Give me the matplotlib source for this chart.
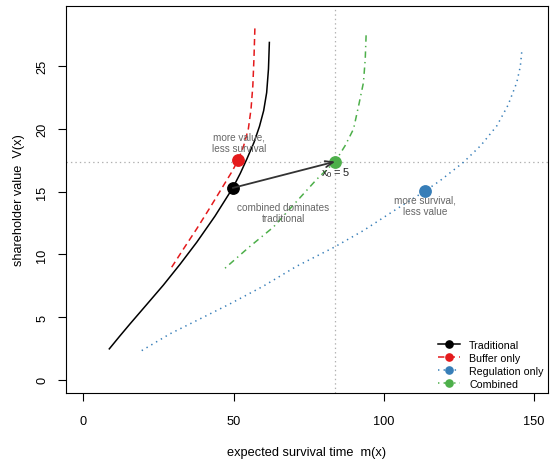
import matplotlib
matplotlib.use("Agg")
import matplotlib.pyplot as plt

plt.rcParams['font.family'] = ['Liberation Sans', 'DejaVu Sans']
plt.rcParams['lines.scale_dashes'] = False

# Curves: expected survival time m(x) vs shareholder value V(x)
trad_m = [8.65, 12.0, 15.54, 21.0, 26.62, 32.2, 37.74, 43.8, 49.72, 52.2, 54.4, 56.8, 58.6, 60.0, 61.0, 61.6, 61.9]
trad_v = [2.47, 3.45, 4.46, 5.98, 7.55, 9.22, 10.97, 13.05, 15.3, 16.45, 17.6, 18.94, 20.2, 21.46, 22.9, 24.78, 26.9]

buf_m = [29.4, 33.5, 37.7, 42.2, 46.6, 49.2, 51.6, 53.4, 54.9, 55.8, 56.4, 56.8, 57.1]
buf_v = [8.98, 10.5, 12.03, 13.75, 15.48, 16.5, 17.55, 18.7, 20.0, 21.6, 23.45, 25.8, 28.2]

reg_m = [19.43, 28.85, 37.74, 48.82, 59.9, 71.0, 83.43, 93.18, 104.3, 113.6, 118.7, 126.5, 132.3, 137.6, 141.3, 144.2, 145.4, 145.9]
reg_v = [2.33, 3.67, 4.73, 6.06, 7.47, 9.06, 10.57, 11.9, 13.63, 15.04, 15.88, 17.35, 18.7, 20.26, 21.9, 23.7, 25.0, 26.24]

comb_m = [47.15, 55.0, 63.2, 70.5, 77.7, 83.8, 87.1, 89.9, 91.6, 93.2, 93.8, 94.1]
comb_v = [8.9, 10.55, 12.17, 14.1, 16.0, 17.4, 18.67, 20.0, 21.86, 23.7, 25.6, 27.57]

# Operating points at x0 = 5
pt_trad = (49.72, 15.3)
pt_buf = (51.6, 17.55)
pt_reg = (113.6, 15.04)
pt_comb = (83.8, 17.4)

labels = ["Traditional", "Buffer only", "Regulation only", "Combined"]
colors = ["black", "#E41A1C", "#377EB8", "#4DAF4A"]

xticks = [0, 50, 100, 150]
yticks = [0, 5, 10, 15, 20, 25]

W, H = 555, 464
fig = plt.figure(figsize=(W / 100, H / 100), dpi=100)
ax = fig.add_axes([65.7 / W, 1 - 394 / H, (548 - 65.7) / W, (394 - 6.7) / H])

ax.set_xlim(-5.86, 154.6)
ax.set_ylim(-1.05, 29.83)

# reference lines
ax.axhline(pt_comb[1], color="#b0b0b0", lw=0.9, dashes=(1, 2.2), zorder=1)
ax.axvline(pt_comb[0], color="#b0b0b0", lw=0.9, dashes=(1, 2.2), zorder=1)

lw = 1.1
st_buf = (4.6, 3.0)
st_reg = (1.0, 3.0)
st_comb = (1.0, 3.0, 4.6, 3.0)
ax.plot(trad_m, trad_v, color=colors[0], lw=lw)
ax.plot(buf_m, buf_v, color=colors[1], lw=lw, dashes=st_buf)
ax.plot(reg_m, reg_v, color=colors[2], lw=lw, dashes=st_reg)
ax.plot(comb_m, comb_v, color=colors[3], lw=lw, dashes=st_comb)

ms = 8.2
for p, c in zip([pt_trad, pt_buf, pt_reg, pt_comb], colors):
    ax.plot([p[0]], [p[1]], 'o', color=c, ms=ms, mec=c, zorder=4)

ax.annotate("", xy=pt_comb, xytext=pt_trad,
            arrowprops=dict(arrowstyle="->,head_length=0.55,head_width=0.22",
                            color="#333333", lw=1.3, shrinkA=0, shrinkB=0),
            zorder=5)

tc = "#666666"
fs = 7.2
ls = 1.2
ax.text(51.9, 18.95, "more value,\nless survival", ha="center", va="center",
        color=tc, fontsize=fs, linespacing=ls)
ax.text(66.6, 13.35, "combined dominates\ntraditional", ha="center", va="center",
        color=tc, fontsize=fs, linespacing=ls)
ax.text(113.7, 13.9, "more survival,\nless value", ha="center", va="center",
        color=tc, fontsize=fs, linespacing=ls)
ax.text(83.8, 16.6, r"$\mathregular{x_0 = 5}$", ha="center", va="center",
        color="#222222", fontsize=8)

# legend
handles = []
for lab, c, st in zip(labels, colors, ["solid", (0, st_buf), (0, st_reg), (0, st_comb)]):
    h, = ax.plot([], [], color=c, lw=lw, marker='o', ms=5.2, linestyle=st)
    handles.append(h)
leg = ax.legend(handles, labels, loc="lower right", frameon=False, fontsize=7.7,
                handlelength=2.1, handletextpad=0.85, labelspacing=0.27,
                borderaxespad=0.0, bbox_to_anchor=(1.0, 0.0))

ax.set_xticks(xticks)
ax.set_yticks(yticks)
ax.tick_params(direction="out", length=5.5, width=0.8, labelsize=9.2)
ax.tick_params(axis='x', pad=10)
ax.tick_params(axis='y', labelrotation=90, pad=7)
for t in ax.get_yticklabels():
    t.set_va('center')
for s in ax.spines.values():
    s.set_linewidth(0.8)

ax.set_xlabel("expected survival time  m(x)", fontsize=9.2, labelpad=14)
ax.set_ylabel("shareholder value  V(x)", fontsize=9.2, labelpad=8)

fig.savefig("out.png", dpi=100)
